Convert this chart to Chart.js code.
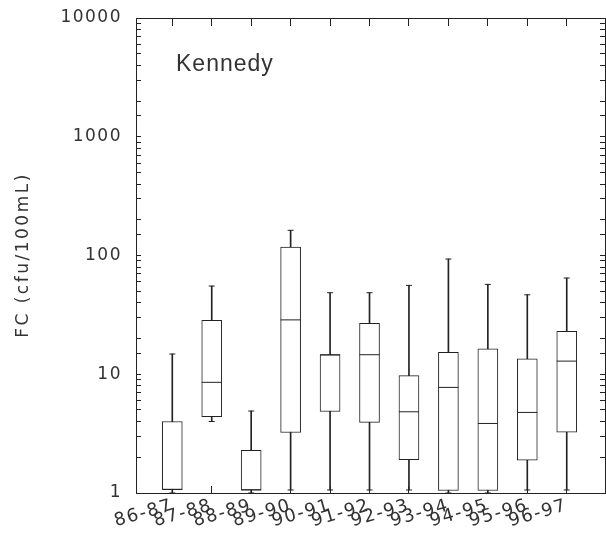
<!DOCTYPE html>
<html>
<head>
<meta charset="utf-8">
<script src="https://cdn.jsdelivr.net/npm/chart.js@4/dist/chart.umd.min.js"></script>
<style>
  html, body { margin: 0; padding: 0; background: #fff; }
  #c { display: block; }
</style>
</head>
<body>
<canvas id="c" width="606" height="544"></canvas>
<script>
// ---- data ----
const seasons = ['86-87','87-88','88-89','89-90','90-91','91-92','92-93','93-94','94-95','95-96','96-97'];
const whiskerLow  = [1.0, 4.0, 1.0, 1.06, 1.06, 1.06, 1.06, 1.0, 1.0, 1.06, 1.06];
const boxLow      = [1.07, 4.4, 1.06, 3.23, 4.86, 3.93, 1.91, 1.05, 1.05, 1.89, 3.26];
const medians     = [1.07, 8.55, 1.06, 28.7, 14.6, 14.6, 4.83, 7.75, 3.85, 4.77, 12.9];
const boxHigh     = [4.0, 28.4, 2.29, 118, 14.6, 26.9, 9.73, 15.3, 16.4, 13.5, 23.0];
const whiskerHigh = [14.8, 55.3, 4.9, 163, 48.6, 48.6, 56.0, 93.4, 57.1, 46.7, 64.6];
const yTickValues = [1, 10, 100, 1000, 10000];
const siteName = 'Kennedy';
const yTitle = 'FC (cfu/100mL)';

const ink = '#222';
const txt = '#333';
const tickFont = { family: 'DejaVu Sans', size: 17 };

const idx = seasons.map((_, i) => i);

const textPlugin = {
  id: 'chartTexts',
  beforeDraw(chart) {
    // slightly spaced lettering, like the original plot's typeface
    try { chart.ctx.letterSpacing = '1.5px'; } catch (e) {}
  },
  afterDraw(chart) {
    const { ctx, chartArea } = chart;
    ctx.save();
    ctx.font = '23px "Liberation Sans", Arial, sans-serif';
    ctx.fillStyle = txt;
    ctx.textBaseline = 'alphabetic';
    ctx.textAlign = 'left';
    try { ctx.letterSpacing = '1px'; } catch (e) {}
    ctx.fillText(siteName, chartArea.left + 40, chartArea.top + 53);
    ctx.restore();

    // y-axis title, placed beside the axis
    ctx.save();
    ctx.font = '17px "DejaVu Sans", sans-serif';
    ctx.fillStyle = txt;
    ctx.textAlign = 'center';
    ctx.textBaseline = 'middle';
    try { ctx.letterSpacing = '2.5px'; } catch (e) {}
    ctx.translate(chartArea.left - 112, chartArea.top + 237);
    ctx.rotate(-Math.PI / 2);
    ctx.fillText(yTitle, 0, 0);
    ctx.restore();
    try { ctx.letterSpacing = '0px'; } catch (e) {}
  }
};

const logTickCb = (v) => yTickValues.includes(v) ? String(v) : '';
const noPad = (s) => { s.paddingTop = 0; s.paddingBottom = 0; s.paddingLeft = 0; s.paddingRight = 0; };

new Chart(document.getElementById('c'), {
  type: 'bar',
  data: {
    datasets: [
      {
        label: 'whiskers',
        type: 'bar',
        data: idx.map(i => ({ x: i, y: [whiskerLow[i], whiskerHigh[i]] })),
        backgroundColor: ink,
        borderWidth: 0,
        barThickness: 1,
        grouped: false,
        order: 4
      },
      {
        label: 'boxes',
        type: 'bar',
        data: idx.map(i => ({ x: i, y: [boxLow[i], boxHigh[i]] })),
        backgroundColor: '#fff',
        borderColor: ink,
        borderWidth: 1,
        borderSkipped: false,
        barThickness: 20,
        grouped: false,
        order: 3
      },
      {
        label: 'medians',
        type: 'scatter',
        data: idx.map(i => ({ x: i, y: medians[i] })),
        pointStyle: 'line',
        pointRadius: 10,
        pointHoverRadius: 10,
        borderColor: ink,
        borderWidth: 1,
        showLine: false,
        order: 1
      },
      {
        label: 'caps',
        type: 'scatter',
        data: idx.flatMap(i => [{ x: i, y: whiskerHigh[i] }, { x: i, y: whiskerLow[i] }]),
        pointStyle: 'line',
        pointRadius: 3,
        pointHoverRadius: 3,
        borderColor: ink,
        borderWidth: 1,
        showLine: false,
        order: 2
      }
    ]
  },
  options: {
    responsive: false,
    devicePixelRatio: 1,
    animation: false,
    events: [],
    layout: { autoPadding: false, padding: { left: 0, top: 18, right: 1, bottom: 0 } },
    plugins: {
      legend: { display: false },
      tooltip: { enabled: false },
      title: { display: false }
    },
    scales: {
      x: {
        type: 'linear',
        position: 'bottom',
        offset: false,
        min: -0.92,
        max: 10.97,
        afterBuildTicks(s) { s.ticks = idx.map(i => ({ value: i })); },
        afterFit(s) { s.height = 51; noPad(s); },
        ticks: {
          autoSkip: false,
          minRotation: 16,
          maxRotation: 16,
          padding: 9,
          color: txt,
          font: { family: 'DejaVu Sans', size: 18 },
          callback: (v) => seasons[v] ?? ''
        },
        grid: { offset: false, drawOnChartArea: false, tickLength: -7, color: ink },
        border: { display: true, color: ink, width: 1 }
      },
      xTop: {
        type: 'linear',
        position: 'top',
        offset: false,
        min: -0.92,
        max: 10.97,
        afterBuildTicks(s) { s.ticks = idx.map(i => ({ value: i })); },
        afterFit(s) { s.height = 0; noPad(s); },
        ticks: { display: false },
        grid: { offset: false, drawOnChartArea: false, tickLength: -8, color: ink },
        border: { display: true, color: ink, width: 1 }
      },
      y: {
        type: 'logarithmic',
        position: 'left',
        min: 1,
        max: 10000,
        afterFit(s) { s.width = 136; noPad(s); },
        ticks: {
          autoSkip: false,
          padding: 19,
          color: txt,
          font: tickFont,
          callback: logTickCb
        },
        grid: { drawOnChartArea: false, tickLength: -5, color: ink },
        border: { display: true, color: ink, width: 1 }
      },
      yRight: {
        type: 'logarithmic',
        position: 'right',
        min: 1,
        max: 10000,
        afterFit(s) { s.width = 0; noPad(s); },
        ticks: { display: false, autoSkip: false, callback: logTickCb },
        grid: { drawOnChartArea: false, tickLength: -5, color: ink },
        border: { display: true, color: ink, width: 1 }
      }
    }
  },
  plugins: [textPlugin]
});
</script>
</body>
</html>
